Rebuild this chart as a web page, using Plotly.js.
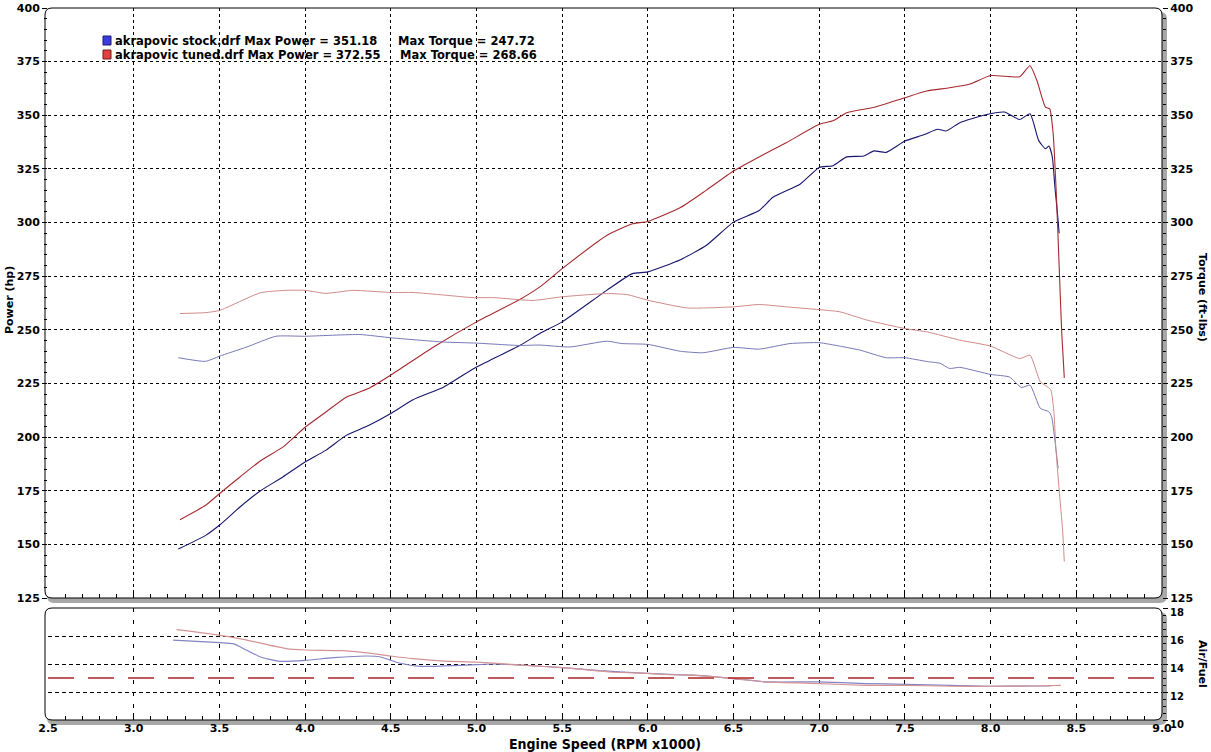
<!DOCTYPE html>
<html>
<head>
<meta charset="utf-8">
<script src="https://cdn.plot.ly/plotly-3.0.1.min.js"></script>
<style>html,body{margin:0;padding:0;background:#fff;}#chart{width:1211px;height:752px;}</style>
</head>
<body>
<div id="chart"></div>
<script>
// ---------- DATA ----------
const runNames = ['akrapovic stock.drf', 'akrapovic tuned.drf'];
const maxPower = [351.18, 372.55];
const maxTorque = [247.72, 268.66];

const stockPowerRpm = [3.26,3.42,3.50,3.62,3.74,3.87,4.00,4.12,4.24,4.37,4.50,4.63,4.81,5.00,5.10,5.25,5.37,5.50,5.76,5.91,6.00,6.19,6.34,6.50,6.65,6.73,6.89,7.00,7.08,7.16,7.26,7.32,7.39,7.50,7.61,7.69,7.74,7.82,7.96,8.08,8.17,8.23,8.28,8.32,8.34,8.36,8.375,8.39,8.40];
const stockPower    = [147.8,154.2,158.9,167.4,175.0,181.4,188.4,193.8,200.8,205.4,211.0,217.4,223.4,232.7,236.6,242.6,248.3,253.7,268.4,276.2,277.0,282.7,289.3,300.2,305.6,311.8,318.0,325.7,326.5,330.6,331.0,333.4,332.7,338.0,340.9,343.5,342.7,346.5,350.0,351.5,348.0,350.7,338.3,334.4,335.7,330.6,316.6,304.3,295.0];

const tunedPowerRpm = [3.27,3.42,3.50,3.62,3.74,3.87,4.00,4.12,4.24,4.37,4.50,4.75,5.00,5.25,5.37,5.50,5.76,5.91,6.00,6.19,6.34,6.50,6.635,6.81,7.00,7.08,7.16,7.315,7.50,7.627,7.76,7.88,8.00,8.11,8.17,8.23,8.27,8.32,8.345,8.365,8.385,8.40,8.415,8.43];
const tunedPower    = [161.5,168.2,173.6,181.4,189.0,195.3,204.6,211.6,218.6,222.6,228.9,242.0,253.7,264.0,270.0,278.5,294.0,299.4,300.5,307.0,315.0,324.0,330.0,337.3,345.8,347.4,351.2,353.6,358.2,361.3,362.8,364.6,368.5,368.0,368.0,373.1,366.2,353.8,353.0,341.4,310.4,279.5,248.5,227.6];

const stockTorqueRpm = [3.26,3.42,3.50,3.66,3.83,4.00,4.32,4.50,4.81,5.00,5.25,5.37,5.545,5.76,5.85,6.00,6.19,6.32,6.50,6.65,6.83,7.00,7.12,7.24,7.39,7.50,7.63,7.705,7.76,7.82,8.00,8.11,8.18,8.23,8.29,8.34,8.356,8.375,8.394];
const stockTorque    = [237.0,235.3,237.7,242.0,247.0,247.0,247.8,246.3,244.3,243.8,242.7,242.9,242.0,244.7,243.6,243.2,240.0,239.3,241.8,241.0,243.6,244.0,242.4,240.5,237.0,237.0,235.2,234.4,232.0,232.5,229.2,228.0,223.1,224.2,213.4,211.8,209.5,198.6,185.4];

const tunedTorqueRpm = [3.27,3.42,3.50,3.74,3.89,4.00,4.12,4.28,4.50,4.63,4.81,4.98,5.10,5.33,5.50,5.76,5.88,6.00,6.23,6.50,6.65,6.81,7.00,7.12,7.28,7.50,7.63,7.82,8.00,8.17,8.23,8.29,8.35,8.37,8.38,8.40,8.42,8.43];
const tunedTorque    = [257.6,258.0,259.0,267.3,268.4,268.4,267.0,268.4,267.4,267.4,266.2,265.0,265.0,263.7,265.4,266.9,266.4,263.8,260.2,260.7,261.8,260.7,259.4,258.4,254.5,250.6,249.0,245.2,242.4,236.6,238.2,225.8,222.2,211.0,195.5,175.3,156.7,142.0];

const stockAfrRpm = [3.23,3.505,3.58,3.66,3.74,3.85,4.00,4.165,4.36,4.44,4.55,4.67,4.81,5.00,5.10,5.29,5.50,5.72,6.00,6.26,6.50,6.69,7.00,7.27,7.50,7.77,8.00,8.24,8.35];
const stockAfr    = [15.70,15.52,15.45,14.98,14.50,14.19,14.26,14.45,14.57,14.50,14.07,13.83,13.86,13.95,14.00,13.90,13.74,13.52,13.33,13.20,12.96,12.72,12.72,12.60,12.55,12.48,12.41,12.43,12.43];

const tunedAfrRpm = [3.25,3.505,3.64,3.89,4.00,4.22,4.40,4.50,4.63,4.81,5.00,5.29,5.50,5.78,6.00,6.10,6.26,6.50,6.69,7.00,7.27,7.50,7.77,8.00,8.24,8.41];
const tunedAfr    = [16.45,16.05,15.76,15.10,15.00,14.95,14.74,14.57,14.38,14.20,14.14,13.90,13.74,13.43,13.33,13.25,13.20,12.96,12.72,12.60,12.48,12.48,12.41,12.41,12.43,12.48];

const targetAfr = 13;
const xRange = [2.5, 9.0];
const powerRange = [125, 400];
const afrRange = [10, 18];

// ---------- STYLE / GEOMETRY ----------
const PX = {l:48, r:1162, t:8, b:720};
const mainBottomPx = 598, subTopPx = 608;
function X(p){return (p-PX.l)/(PX.r-PX.l);}
function Y(p){return (PX.b-p)/(PX.b-PX.t);}
function rrect(x0,y0,x1,y1,r){
  return `M ${X(x0+r)},${Y(y0)} L ${X(x1-r)},${Y(y0)} Q ${X(x1)},${Y(y0)} ${X(x1)},${Y(y0+r)} ` +
         `L ${X(x1)},${Y(y1-r)} Q ${X(x1)},${Y(y1)} ${X(x1-r)},${Y(y1)} L ${X(x0+r)},${Y(y1)} ` +
         `Q ${X(x0)},${Y(y1)} ${X(x0)},${Y(y1-r)} L ${X(x0)},${Y(y0+r)} Q ${X(x0)},${Y(y0)} ${X(x0+r)},${Y(y0)} Z`;
}
const FAM = 'DejaVu Sans, Verdana, sans-serif';
const boldFont = {family:FAM, size:11, color:'#000', weight:'bold'};
const legendFont = {family:FAM, size:11.5, color:'#000', weight:'bold'};
const smallBold = {family:FAM, size:10, color:'#000', weight:'bold'};
const narrowFam = 'Liberation Sans Narrow, DejaVu Sans Condensed, Arial Narrow, sans-serif';

const C = {stockP:'#16166e', tunedP:'#a52a2e', stockT:'#7878b8', tunedT:'#d08a8a', stockA:'#8484c4', tunedA:'#d49494', target:'#b02525'};
const sp = {shape:'spline', smoothing:0.5};

const traces = [
  {x:stockPowerRpm, y:stockPower, xaxis:'x', yaxis:'y', mode:'lines', line:Object.assign({color:C.stockP, width:1.1}, sp)},
  {x:tunedPowerRpm, y:tunedPower, xaxis:'x', yaxis:'y', mode:'lines', line:Object.assign({color:C.tunedP, width:1.1}, sp)},
  {x:stockTorqueRpm, y:stockTorque, xaxis:'x', yaxis:'y2', mode:'lines', line:Object.assign({color:C.stockT, width:1}, sp)},
  {x:tunedTorqueRpm, y:tunedTorque, xaxis:'x', yaxis:'y2', mode:'lines', line:Object.assign({color:C.tunedT, width:1}, sp)},
  {x:stockAfrRpm, y:stockAfr, xaxis:'x2', yaxis:'y3', mode:'lines', line:Object.assign({color:C.stockA, width:1.2}, sp)},
  {x:tunedAfrRpm, y:tunedAfr, xaxis:'x2', yaxis:'y3', mode:'lines', line:Object.assign({color:C.tunedA, width:1.2}, sp)}
];

const mainDomain = [Y(mainBottomPx), 1];
const subDomain = [0, Y(subTopPx)];

const shapes = [
  // shadows
  {type:'path', xref:'paper', yref:'paper', layer:'below', path:rrect(47,12,1167,mainBottomPx+5,7), fillcolor:'#a8a8a8', line:{width:0}},
  {type:'path', xref:'paper', yref:'paper', layer:'below', path:rrect(47,subTopPx+4,1167,PX.b+5,7), fillcolor:'#a8a8a8', line:{width:0}},
  // white panels
  {type:'path', xref:'paper', yref:'paper', layer:'below', path:rrect(45,PX.t,PX.r,mainBottomPx,7), fillcolor:'#ffffff', line:{width:0}},
  {type:'path', xref:'paper', yref:'paper', layer:'below', path:rrect(45,subTopPx,PX.r,PX.b,7), fillcolor:'#ffffff', line:{width:0}},
  // outlines
  {type:'path', xref:'paper', yref:'paper', layer:'above', path:rrect(45,PX.t,PX.r,mainBottomPx,7), fillcolor:'rgba(0,0,0,0)', line:{color:'#000', width:1}},
  {type:'path', xref:'paper', yref:'paper', layer:'above', path:rrect(45,subTopPx,PX.r,PX.b,7), fillcolor:'rgba(0,0,0,0)', line:{color:'#000', width:1}},
  // target AFR line
  {type:'line', xref:'x2', yref:'y3', x0:xRange[0], x1:xRange[1], y0:targetAfr, y1:targetAfr, layer:'above', line:{color:C.target, width:1.3, dash:'26px,14px'}},
  // legend swatches
  {type:'rect', xref:'paper', yref:'paper', x0:X(103), x1:X(111), y0:Y(45), y1:Y(36), fillcolor:'#3c3cdc', line:{color:'#1a1a70', width:1}},
  {type:'rect', xref:'paper', yref:'paper', x0:X(103), x1:X(111), y0:Y(59), y1:Y(50), fillcolor:'#e04040', line:{color:'#701a1a', width:1}}
];

const annotations = [
  {xref:'paper', yref:'paper', x:X(113), y:Y(41), xanchor:'left', yanchor:'middle', showarrow:false, font:legendFont,
   text:`${runNames[0]} Max Power = ${maxPower[0].toFixed(2)}`},
  {xref:'paper', yref:'paper', x:X(396), y:Y(41), xanchor:'left', yanchor:'middle', showarrow:false, font:legendFont,
   text:`Max Torque = ${maxTorque[0].toFixed(2)}`},
  {xref:'paper', yref:'paper', x:X(113), y:Y(55), xanchor:'left', yanchor:'middle', showarrow:false, font:legendFont,
   text:`${runNames[1]} Max Power = ${maxPower[1].toFixed(2)}`},
  {xref:'paper', yref:'paper', x:X(398), y:Y(55), xanchor:'left', yanchor:'middle', showarrow:false, font:legendFont,
   text:`Max Torque = ${maxTorque[1].toFixed(2)}`},
  {xref:'paper', yref:'paper', x:X(9), y:Y(300), xanchor:'center', yanchor:'middle', textangle:-90, showarrow:false, font:boldFont, text:'Power (hp)'},
  {xref:'paper', yref:'paper', x:X(1203), y:Y(297), xanchor:'center', yanchor:'middle', textangle:90, showarrow:false, font:boldFont, text:'Torque (ft-lbs)'},
  {xref:'paper', yref:'paper', x:X(1203), y:Y(664), xanchor:'center', yanchor:'middle', textangle:90, showarrow:false, font:boldFont, text:'Air/Fuel'},
  {xref:'paper', yref:'paper', x:X(605), y:Y(744), xanchor:'center', yanchor:'middle', showarrow:false,
   font:{family:narrowFam, size:14, color:'#000', weight:'bold'}, text:'Engine Speed (RPM x1000)'}
];

const gridDash = '3px,3px';
const layout = {
  width:1211, height:752,
  margin:{l:PX.l, r:1211-PX.r, t:PX.t, b:752-PX.b, pad:0},
  paper_bgcolor:'#ffffff', plot_bgcolor:'rgba(0,0,0,0)',
  showlegend:false,
  xaxis:{domain:[0,1], anchor:'y', range:xRange, dtick:0.5, showticklabels:false, showgrid:true, gridcolor:'#000', gridwidth:1, griddash:gridDash,
         zeroline:false, showline:false, ticks:'inside', ticklen:7, tickcolor:'#000',
         minor:{dtick:0.1, ticks:'inside', ticklen:4, tickcolor:'#000', showgrid:false}},
  yaxis:{domain:mainDomain, anchor:'x', range:powerRange, dtick:25, showgrid:true, gridcolor:'#000', gridwidth:1, griddash:gridDash,
         zeroline:false, showline:false, ticks:'outside', ticklen:5, tickcolor:'#000', tickfont:boldFont,
         minor:{dtick:5, ticks:'outside', ticklen:3, tickcolor:'#000', showgrid:false}},
  yaxis2:{overlaying:'y', anchor:'x', side:'right', range:powerRange, dtick:25, showgrid:false, zeroline:false, showline:false,
          ticks:'outside', ticklen:5, tickcolor:'#000', tickfont:boldFont,
          minor:{dtick:5, ticks:'outside', ticklen:3, tickcolor:'#000'}},
  xaxis2:{domain:[0,1], anchor:'y3', matches:'x', range:xRange, dtick:0.5, tickformat:'.1f', showgrid:true, gridcolor:'#000', gridwidth:1, griddash:'4px,8px',
          zeroline:false, showline:false, ticks:'inside', ticklen:7, tickcolor:'#000', tickfont:boldFont,
          minor:{dtick:0.1, ticks:'inside', ticklen:4, tickcolor:'#000', showgrid:false}},
  yaxis3:{domain:subDomain, anchor:'x2', side:'right', range:afrRange, dtick:2, showgrid:true, gridcolor:'#000', gridwidth:1, griddash:'4px,3px',
          zeroline:false, showline:false, ticks:'outside', ticklen:5, tickcolor:'#000', tickfont:smallBold, ticklabelshift:4,
          minor:{dtick:0.5, ticks:'outside', ticklen:3, tickcolor:'#000', showgrid:false}},
  shapes:shapes,
  annotations:annotations
};

Plotly.newPlot('chart', traces, layout, {displayModeBar:false, staticPlot:true});
</script>
</body>
</html>
